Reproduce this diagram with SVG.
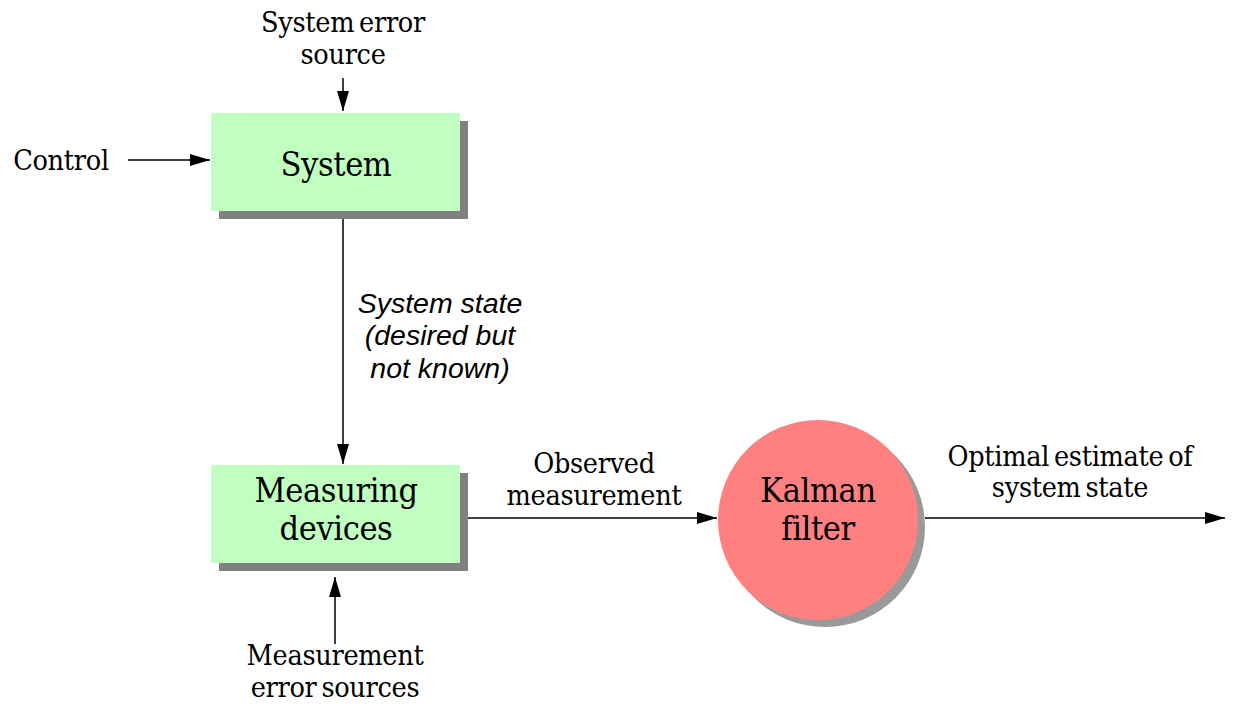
<svg xmlns="http://www.w3.org/2000/svg" width="1244" height="713" viewBox="0 0 1244 713">
<style>
.t{font-family:"DejaVu Serif Condensed","DejaVu Serif","Liberation Serif",serif;fill:#000;text-anchor:middle}
.s{font-size:28.5px;letter-spacing:-0.3px;word-spacing:-3px}
.b{font-size:34px;letter-spacing:-0.4px}
.i{font-family:"Liberation Sans",Arial,sans-serif;font-style:italic;font-size:28.5px;text-anchor:middle}
.c{stroke:#000;stroke-width:1.5;fill:none;marker-end:url(#a)}
</style>
<defs>
<marker id="a" viewBox="0 0 20 12" refX="20" refY="6" markerWidth="20" markerHeight="12" markerUnits="userSpaceOnUse" orient="auto">
<path d="M0,0 L20,6 L0,12 z" fill="#000"/>
</marker>
</defs>
<rect width="1244" height="713" fill="#fff"/>
<g id="connectors">
<line class="c" x1="343" y1="78" x2="343" y2="111"/>
<line class="c" x1="128" y1="160" x2="210" y2="160"/>
<line class="c" x1="343" y1="219" x2="343" y2="464"/>
<line class="c" x1="335" y1="644" x2="335" y2="577"/>
<line class="c" x1="468" y1="518" x2="717" y2="518"/>
<line class="c" x1="925" y1="518" x2="1225" y2="518"/>
</g>
<g id="system">
<rect x="219" y="121" width="249" height="98" fill="#808080"/>
<rect x="211" y="113" width="249" height="98" fill="#c0ffc0"/>
<text class="t b" x="336" y="176">System</text>
</g>
<g id="measuring">
<rect x="219" y="473" width="249" height="98" fill="#808080"/>
<rect x="211" y="465" width="249" height="98" fill="#c0ffc0"/>
<text class="t b" x="336" y="502">Measuring</text>
<text class="t b" x="336" y="540">devices</text>
</g>
<g id="kalman">
<circle cx="825" cy="527" r="100" fill="#999"/>
<circle cx="818" cy="520" r="100" fill="#ff8080"/>
<text class="t b" x="818" y="502">Kalman</text>
<text class="t b" x="818" y="540">filter</text>
</g>
<g id="labels">
<text class="t s" x="343" y="32">System error</text>
<text class="t s" x="343" y="64">source</text>
<text class="t s" x="61" y="170">Control</text>
<text class="i" x="440" y="313">System state</text>
<text class="i" x="440" y="345">(desired but</text>
<text class="i" x="440" y="378">not known)</text>
<text class="t s" x="594" y="473">Observed</text>
<text class="t s" x="594" y="505">measurement</text>
<text class="t s" x="1070" y="466">Optimal estimate of</text>
<text class="t s" x="1070" y="497">system state</text>
<text class="t s" x="335" y="665">Measurement</text>
<text class="t s" x="335" y="697">error sources</text>
</g>
</svg>
